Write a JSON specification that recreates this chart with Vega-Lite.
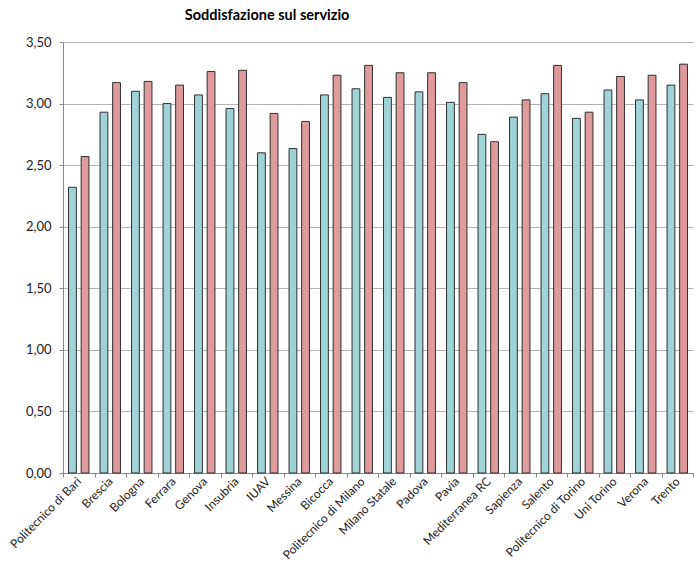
{
  "$schema": "https://vega.github.io/schema/vega-lite/v6.json",
  "autosize": {"type": "none"},
  "padding": {"left": 63, "top": 42, "right": 2, "bottom": 106},
  "width": 630,
  "height": 431,
  "background": "white",
  "title": {
    "text": "Soddisfazione sul servizio",
    "font": "Lato",
    "fontSize": 14.5,
    "fontWeight": "bold",
    "color": "#000000",
    "anchor": "start",
    "dx": 177,
    "offset": 13
  },
  "data": {
    "values": [
      {"ateneo": "Politecnico di Bari", "serie": "Serie 1", "valore": 2.32},
      {"ateneo": "Politecnico di Bari", "serie": "Serie 2", "valore": 2.57},
      {"ateneo": "Brescia", "serie": "Serie 1", "valore": 2.93},
      {"ateneo": "Brescia", "serie": "Serie 2", "valore": 3.17},
      {"ateneo": "Bologna", "serie": "Serie 1", "valore": 3.10},
      {"ateneo": "Bologna", "serie": "Serie 2", "valore": 3.18},
      {"ateneo": "Ferrara", "serie": "Serie 1", "valore": 3.00},
      {"ateneo": "Ferrara", "serie": "Serie 2", "valore": 3.15},
      {"ateneo": "Genova", "serie": "Serie 1", "valore": 3.07},
      {"ateneo": "Genova", "serie": "Serie 2", "valore": 3.26},
      {"ateneo": "Insubria", "serie": "Serie 1", "valore": 2.96},
      {"ateneo": "Insubria", "serie": "Serie 2", "valore": 3.27},
      {"ateneo": "IUAV", "serie": "Serie 1", "valore": 2.60},
      {"ateneo": "IUAV", "serie": "Serie 2", "valore": 2.92},
      {"ateneo": "Messina", "serie": "Serie 1", "valore": 2.635},
      {"ateneo": "Messina", "serie": "Serie 2", "valore": 2.855},
      {"ateneo": "Bicocca", "serie": "Serie 1", "valore": 3.07},
      {"ateneo": "Bicocca", "serie": "Serie 2", "valore": 3.23},
      {"ateneo": "Politecnico di Milano", "serie": "Serie 1", "valore": 3.12},
      {"ateneo": "Politecnico di Milano", "serie": "Serie 2", "valore": 3.31},
      {"ateneo": "Milano Statale", "serie": "Serie 1", "valore": 3.05},
      {"ateneo": "Milano Statale", "serie": "Serie 2", "valore": 3.25},
      {"ateneo": "Padova", "serie": "Serie 1", "valore": 3.095},
      {"ateneo": "Padova", "serie": "Serie 2", "valore": 3.25},
      {"ateneo": "Pavia", "serie": "Serie 1", "valore": 3.01},
      {"ateneo": "Pavia", "serie": "Serie 2", "valore": 3.17},
      {"ateneo": "Mediterranea RC", "serie": "Serie 1", "valore": 2.75},
      {"ateneo": "Mediterranea RC", "serie": "Serie 2", "valore": 2.69},
      {"ateneo": "Sapienza", "serie": "Serie 1", "valore": 2.89},
      {"ateneo": "Sapienza", "serie": "Serie 2", "valore": 3.03},
      {"ateneo": "Salento", "serie": "Serie 1", "valore": 3.08},
      {"ateneo": "Salento", "serie": "Serie 2", "valore": 3.31},
      {"ateneo": "Politecnico di Torino", "serie": "Serie 1", "valore": 2.88},
      {"ateneo": "Politecnico di Torino", "serie": "Serie 2", "valore": 2.93},
      {"ateneo": "Uni Torino", "serie": "Serie 1", "valore": 3.11},
      {"ateneo": "Uni Torino", "serie": "Serie 2", "valore": 3.22},
      {"ateneo": "Verona", "serie": "Serie 1", "valore": 3.03},
      {"ateneo": "Verona", "serie": "Serie 2", "valore": 3.23},
      {"ateneo": "Trento", "serie": "Serie 1", "valore": 3.15},
      {"ateneo": "Trento", "serie": "Serie 2", "valore": 3.32}
    ]
  },
  "mark": {"type": "bar", "stroke": "#2f2f2f", "strokeWidth": 1},
  "encoding": {
    "x": {
      "field": "ateneo",
      "type": "nominal",
      "sort": null,
      "scale": {"paddingInner": 0, "paddingOuter": 0},
      "axis": {
        "title": null,
        "labelAngle": -45,
        "labelAlign": "right",
        "labelBaseline": "middle",
        "labelFont": "Lato",
        "labelFontSize": 12,
        "labelColor": "#222222",
        "labelPadding": 2,
        "tickBand": "extent",
        "tickSize": 4,
        "tickColor": "#888888",
        "domainColor": "#888888",
        "grid": false
      }
    },
    "xOffset": {
      "field": "serie",
      "type": "nominal",
      "scale": {"paddingInner": 0.38, "paddingOuter": 0.44}
    },
    "y": {
      "field": "valore",
      "type": "quantitative",
      "scale": {"domain": [0, 3.5], "nice": false},
      "axis": {
        "title": null,
        "values": [0, 0.5, 1, 1.5, 2, 2.5, 3, 3.5],
        "labelExpr": "replace(format(datum.value, '.2f'), '.', ',')",
        "labelFont": "Lato",
        "labelFontSize": 13,
        "labelColor": "#222222",
        "labelPadding": 8,
        "tickSize": 4,
        "tickColor": "#888888",
        "domainColor": "#888888",
        "gridColor": "#b3b3b3",
        "gridWidth": 1
      }
    },
    "color": {
      "field": "serie",
      "type": "nominal",
      "scale": {"domain": ["Serie 1", "Serie 2"], "range": ["#9fd3d7", "#df9a9b"]},
      "legend": null
    }
  },
  "config": {"view": {"stroke": null}}
}
